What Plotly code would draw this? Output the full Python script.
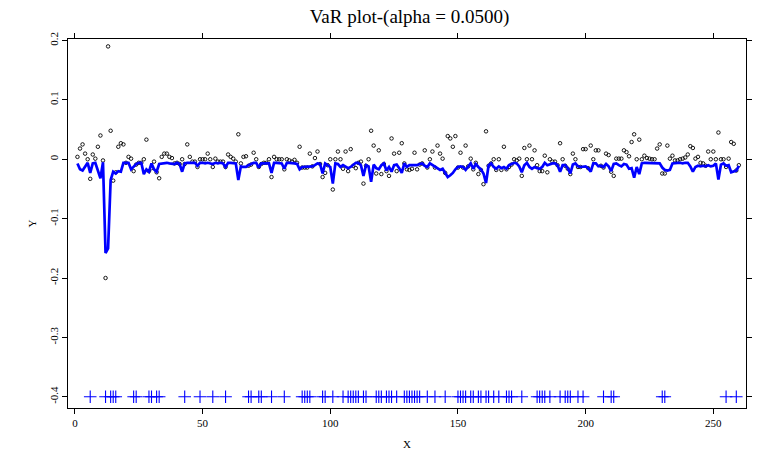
import plotly.graph_objects as go

# ---- data ----
index = list(range(1, 261))

returns = [
    0.004, 0.018, 0.025, 0.0095, 0.000, -0.033, 0.008, 0.001, 0.021, 0.040,
    -0.002, -0.200, 0.190, 0.048, -0.036, -0.022, 0.021, 0.027, 0.025, -0.006,
    0.004, 0.001, -0.020, -0.009, -0.006, -0.006, 0.000, 0.033, -0.020, -0.015,
    -0.004, -0.022, -0.032, 0.004, 0.0095, 0.0095, 0.004, 0.002, -0.007, -0.006,
    -0.008, 0.000, -0.008, 0.025, 0.004, -0.004, -0.004, -0.013, 0.000, 0.000,
    0.000, 0.0095, 0.000, -0.013, 0.001, -0.004, -0.004, -0.004, -0.013, 0.008,
    0.004, 0.001, -0.004, 0.042, -0.007, 0.004, 0.005, -0.011, -0.009, 0.011,
    0.000, -0.013, -0.008, -0.006, -0.006, 0.000, -0.030, 0.004, 0.000, 0.000,
    0.000, -0.017, 0.000, -0.002, -0.004, -0.001, -0.006, 0.021, -0.014, -0.014,
    -0.014, 0.0095, -0.012, 0.002, 0.013, -0.008, -0.030, -0.023, -0.010, 0.000,
    -0.051, 0.000, 0.013, 0.000, -0.016, 0.013, -0.020, 0.017, -0.011, -0.015,
    -0.006, -0.004, -0.041, -0.011, 0.000, 0.048, 0.023, -0.024, 0.015, -0.025,
    -0.008, -0.020, -0.028, 0.035, 0.0095, -0.020, 0.011, 0.027, -0.007, -0.017,
    -0.018, -0.016, 0.011, -0.017, -0.009, -0.007, 0.015, -0.014, 0.000, 0.013,
    -0.014, 0.023, 0.0095, 0.001, -0.023, 0.039, 0.035, 0.021, 0.039, -0.014,
    0.011, -0.014, 0.023, -0.012, 0.001, -0.017, -0.006, -0.025, -0.018, -0.042,
    0.047, -0.011, -0.007, 0.000, -0.018, 0.000, -0.018, 0.021, -0.017, -0.013,
    -0.009, 0.000, -0.002, 0.001, -0.028, 0.019, 0.000, 0.023, 0.000, 0.015,
    -0.010, -0.020, -0.020, 0.006, -0.022, 0.000, -0.004, -0.004, -0.010, 0.027,
    0.000, -0.011, -0.016, -0.025, 0.0095, 0.000, -0.013, -0.013, 0.017, 0.017,
    -0.015, 0.023, 0.000, 0.015, 0.015, -0.011, -0.014, 0.0095, 0.007, -0.021,
    -0.028, 0.001, 0.001, 0.001, 0.015, 0.012, 0.005, 0.029, 0.042, 0.000,
    0.033, 0.000, 0.006, 0.002, 0.001, 0.000, 0.000, 0.018, 0.025, -0.024,
    -0.024, 0.023, 0.001, 0.006, -0.002, -0.002, 0.000, 0.001, 0.003, 0.008,
    0.022, 0.019, 0.001, 0.004, -0.006, -0.007, -0.011, 0.013, 0.000, 0.013,
    0.000, 0.045, 0.000, 0.000, -0.013, 0.001, 0.029, 0.026, -0.019, -0.010,
]

var_line = [
    -0.007, -0.017, -0.019, -0.013, -0.006, -0.023, -0.007, -0.006, -0.019, -0.032,
    -0.005, -0.158, -0.150, -0.035, -0.021, -0.024, -0.020, -0.021, -0.006, -0.006,
    -0.006, -0.017, -0.013, -0.008, -0.006, -0.006, -0.025, -0.017, -0.021, -0.007,
    -0.017, -0.021, -0.008, -0.007, -0.007, -0.006, -0.007, -0.007, -0.008, -0.006,
    -0.008, -0.021, -0.007, -0.006, -0.006, -0.007, -0.006, -0.011, -0.006, -0.006,
    -0.007, -0.006, -0.007, -0.008, -0.006, -0.007, -0.006, -0.007, -0.013, -0.006,
    -0.006, -0.007, -0.007, -0.035, -0.012, -0.013, -0.013, -0.010, -0.008, -0.006,
    -0.006, -0.014, -0.007, -0.007, -0.007, -0.007, -0.023, -0.006, -0.006, -0.006,
    -0.007, -0.016, -0.006, -0.006, -0.006, -0.007, -0.008, -0.017, -0.013, -0.013,
    -0.012, -0.013, -0.012, -0.010, -0.007, -0.008, -0.024, -0.007, -0.010, -0.013,
    -0.041, -0.007, -0.008, -0.013, -0.010, -0.012, -0.015, -0.013, -0.010, -0.006,
    -0.006, -0.010, -0.028, -0.010, -0.012, -0.038, -0.009, -0.015, -0.017, -0.010,
    -0.007, -0.019, -0.013, -0.021, -0.010, -0.009, -0.015, -0.023, -0.007, -0.013,
    -0.010, -0.010, -0.011, -0.010, -0.008, -0.007, -0.011, -0.013, -0.007, -0.010,
    -0.013, -0.015, -0.018, -0.016, -0.022, -0.030, -0.027, -0.023, -0.017, -0.013,
    -0.012, -0.013, -0.018, -0.012, -0.007, -0.016, -0.008, -0.013, -0.017, -0.024,
    -0.040, -0.010, -0.007, -0.013, -0.016, -0.012, -0.015, -0.013, -0.016, -0.010,
    -0.008, -0.006, -0.007, -0.012, -0.022, -0.010, -0.006, -0.013, -0.016, -0.013,
    -0.015, -0.016, -0.013, -0.006, -0.010, -0.008, -0.007, -0.007, -0.010, -0.021,
    -0.010, -0.010, -0.015, -0.024, -0.009, -0.007, -0.012, -0.013, -0.013, -0.012,
    -0.015, -0.021, -0.007, -0.007, -0.012, -0.011, -0.013, -0.008, -0.012, -0.020,
    -0.008, -0.007, -0.010, -0.012, -0.008, -0.009, -0.016, -0.015, -0.031, -0.013,
    -0.025, -0.007, -0.006, -0.006, -0.006, -0.007, -0.006, -0.006, -0.007, -0.014,
    -0.018, -0.019, -0.018, -0.007, -0.006, -0.006, -0.006, -0.007, -0.006, -0.006,
    -0.012, -0.021, -0.013, -0.011, -0.012, -0.011, -0.012, -0.010, -0.012, -0.011,
    -0.007, -0.034, -0.009, -0.007, -0.011, -0.010, -0.022, -0.021, -0.019, -0.011,
]

exceed_idx = [
    6, 12, 14, 15, 16, 23, 24, 29, 30, 32, 33, 43, 49, 54, 59, 68, 69, 72, 73, 77,
    82, 89, 90, 91, 92, 97, 98, 101, 105, 107, 108, 109, 110, 111, 113, 114, 118,
    119, 120, 122, 123, 124, 126, 129, 130, 131, 132, 133, 134, 135, 138, 141, 145,
    150, 151, 152, 153, 155, 156, 158, 159, 161, 162, 164, 166, 169, 170, 171, 175,
    181, 182, 183, 184, 186, 190, 192, 193, 194, 197, 199, 207, 210, 211, 230, 231,
    255, 259,
]
exceed_level = [-0.4] * len(exceed_idx)

x_ticks = [0, 50, 100, 150, 200, 250]
y_ticks = [-0.4, -0.3, -0.2, -0.1, 0, 0.1, 0.2]
y_tick_text = ["-0.4", "-0.3", "-0.2", "-0.1", "0", "0.1", "0.2"]

FONT = "Liberation Serif"

fig = go.Figure()
fig.add_trace(go.Scatter(
    x=index, y=returns, mode="markers",
    marker=dict(symbol="circle-open", size=3.5, color="black", line=dict(width=0.9)),
    showlegend=False,
))
fig.add_trace(go.Scatter(
    x=index, y=var_line, mode="lines",
    line=dict(color="#0000FF", width=2.7),
    showlegend=False,
))
fig.add_trace(go.Scatter(
    x=exceed_idx, y=exceed_level, mode="markers",
    marker=dict(symbol="cross-thin-open", size=9, color="#0000FF",
                line=dict(width=1.1, color="#0000FF")),
    showlegend=False,
))

fig.update_layout(
    width=757, height=454,
    margin=dict(l=68, r=5, t=39, b=44),
    paper_bgcolor="white", plot_bgcolor="white",
    font=dict(family=FONT, color="black", size=11),
    title=dict(text="VaR plot-(alpha = 0.0500)", x=0.541, xanchor="center",
               y=0.963, yanchor="middle",
               font=dict(family=FONT, size=19, color="black")),
)
fig.update_xaxes(
    range=[-2.7, 262.8], tickvals=x_ticks, ticktext=[str(v) for v in x_ticks],
    showgrid=False, zeroline=False,
    showline=True, linecolor="black", linewidth=1, mirror="allticks",
    ticks="outside", ticklen=5, tickcolor="black",
    tickfont=dict(family=FONT, size=11),
    title=dict(text="X", font=dict(family=FONT, size=11), standoff=12),
)
fig.update_yaxes(
    range=[-0.4189, 0.2025], tickvals=y_ticks, ticktext=y_tick_text,
    tickangle=-90,
    showgrid=False, zeroline=False,
    showline=True, linecolor="black", linewidth=1, mirror="allticks",
    ticks="outside", ticklen=5, tickcolor="black",
    tickfont=dict(family=FONT, size=11),
    title=dict(text="Y", font=dict(family=FONT, size=11), standoff=8),
)

fig.write_html("out.html")
